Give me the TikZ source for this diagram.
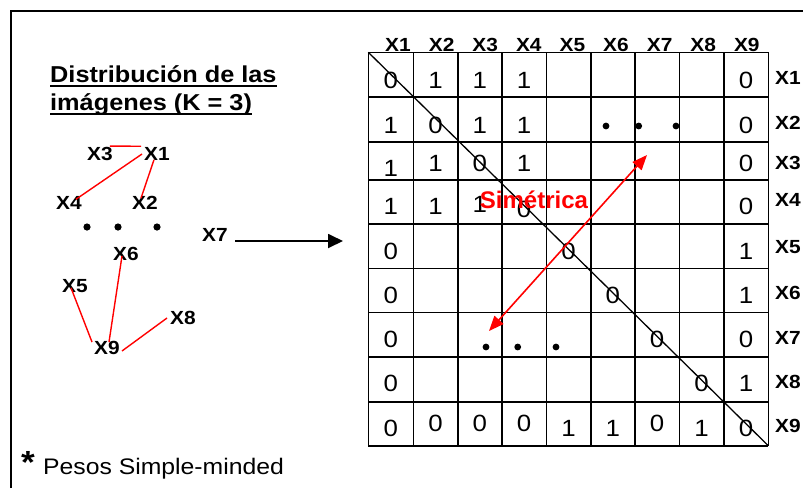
\documentclass[tikz,border=0pt]{standalone}
\usepackage{fontspec}
\setmainfont{Liberation Sans}[FakeStretch=1.1]
\newfontfamily\unstretched{Liberation Sans}
\usetikzlibrary{arrows.meta}
\begin{document}
\begin{tikzpicture}[x=1pt,y=-1pt,
  lbl/.style={font=\bfseries\fontsize{19}{21}\selectfont, inner sep=0pt},
  dig/.style={font=\fontsize{23.5}{25}\selectfont, inner sep=0pt},
  titl/.style={font=\bfseries\fontsize{23}{26}\selectfont, inner sep=0pt, anchor=base west},
  edgeln/.style={red, line width=1.4pt},
  gridln/.style={line width=1.6pt},
  dotmark/.style={fill=black}
]
\useasboundingbox (0,0) rectangle (803,488);
% frame
\draw[line width=1.8pt] (11,488) -- (11,11) -- (803,11);

% title
\node[titl] (t1) at (50,82) {Distribución de las};
\node[titl] (t2) at (50,110) {imágenes (K = 3)};
\draw[line width=1.6pt] ([yshift=-4pt]t1.base west) -- ([yshift=-4pt]t1.base east);
\draw[line width=1.6pt] ([yshift=-4pt]t2.base west) -- ([yshift=-4pt]t2.base east);

% left graph
\node[lbl] (X3) at (100,154) {X3};
\node[lbl] (X1) at (157,154) {X1};
\node[lbl] (X4) at (69,203) {X4};
\node[lbl] (X2) at (145,203) {X2};
\node[lbl] (X7) at (215,235) {X7};
\node[lbl] (X6) at (126,254) {X6};
\node[lbl] (X5) at (75,286) {X5};
\node[lbl] (X8) at (183,318) {X8};
\node[lbl] (X9) at (107,348) {X9};
\fill[dotmark] (87,227) circle (3.6) (118,227) circle (3.6) (157,227) circle (3.6);
\draw[edgeln] ([xshift=-3pt,yshift=1pt]X3.north east) -- ([xshift=-3pt,yshift=1pt]X1.north west);
\draw[edgeln] ([xshift=-2pt]X1.west) -- ([xshift=-6pt,yshift=-3pt]X4.north east);
\draw[edgeln] ([xshift=-3pt,yshift=1pt]X1.south) -- ([xshift=-4pt,yshift=-2pt]X2.north);
\draw[edgeln] ([xshift=-4pt,yshift=5pt]X5.south) -- ([xshift=-2pt,yshift=-1pt]X9.north west);
\draw[edgeln] ([xshift=-4pt,yshift=5pt]X6.south) -- ([xshift=2pt,yshift=-1pt]X9.north);
\draw[edgeln] ([xshift=-3pt]X8.west) -- ([xshift=2pt,yshift=-3pt]X9.east);

% black arrow
\coordinate (aS) at (235,241);
\coordinate (aE) at (343,241);
\draw[line width=1.8pt, -{Triangle[length=15pt,width=14pt]}] (aS) -- (aE);

% grid
\foreach \xx in {368.3,413.3,457.7,502,546.3,590.7,635,679.3,724,768.3}
  \draw[gridln] (\xx,52.3) -- (\xx,445.7);
\foreach \yy in {52.3,96.7,141.7,180,224,268.3,312.3,356.7,401.7,445.7}
  \draw[gridln] (368.3,\yy) -- (768.3,\yy);

% column headers
\foreach \i in {1,...,9}
  \node[lbl] (h\i) at ({398+43.6*(\i-1)},45) {X\i};
% row labels
\foreach \i/\yy in {1/78,2/123,3/163,4/200,5/247,6/293,7/338,8/382,9/426}
  \node[lbl, anchor=west] (r\i) at (775,\yy) {X\i};

% matrix entries
\foreach \xx/\yy/\nm/\t in {
 390.8/80.5/a11/0, 435.5/80.5/a12/1, 479.85/80.5/a13/1, 524.15/80.5/a14/1, 746.15/80.5/a19/0,
 390.8/125/a21/1, 435.5/125/a22/0, 479.85/125/a23/1, 524.15/125/a24/1, 746.15/125/a29/0,
 390.8/168/a31/1, 435.5/163/a32/1, 479.85/163/a33/0, 524.15/163/a34/1, 746.15/163/a39/0,
 390.8/206/a41/1, 435.5/206/a42/1, 479.85/204/a43/1, 524.15/209/a44/0, 746.15/206/a49/0,
 390.8/251.5/a51/0, 568.5/251.5/a55/0, 746.15/251.5/a59/1,
 390.8/295/a61/0, 612.85/295/a66/0, 746.15/295/a69/1,
 390.8/339/a71/0, 657.15/339/a77/0, 746.15/339/a79/0,
 390.8/383/a81/0, 701.65/383/a88/0, 746.15/383/a89/1,
 390.8/428/a91/0, 435.5/423/a92/0, 479.85/423/a93/0, 524.15/423/a94/0, 568.5/428/a95/1,
 612.85/428/a96/1, 657.15/423/a97/0, 701.65/428/a98/1, 746.15/428/a99/0}
  \node[dig] (\nm) at (\xx,\yy) {\t};

% dots in matrix
\fill[dotmark] (606,126) circle (3.4) (638.7,126) circle (3.4) (676,126) circle (3.4);
\fill[dotmark] (486,347) circle (3.4) (517.7,347) circle (3.4) (556,347) circle (3.4);

% diagonal
\coordinate (gTL) at (368.3,52.3);
\coordinate (gBR) at (768.3,445.7);
\draw[line width=1.3pt] (gTL) -- (gBR);

% symmetric arrow
\coordinate (sA) at (647,155);
\coordinate (sB) at (489,331);
\draw[red, line width=1.6pt, {Triangle[length=15pt,width=12pt]}-{Triangle[length=15pt,width=12pt]}] (sB) -- (sA);
\node[red, font=\unstretched\bfseries\fontsize{24}{26}\selectfont, inner sep=0pt, anchor=base] (sim) at (534,208) {Simétrica};

% footnote
\node[font=\bfseries\fontsize{32}{34}\selectfont, inner sep=0pt, anchor=base] (ast) at (28,473) {*};
\node[font=\fontsize{22.5}{25}\selectfont, inner sep=0pt, anchor=base west] (foot) at (43,474) {Pesos Simple-minded};
\end{tikzpicture}
\end{document}
